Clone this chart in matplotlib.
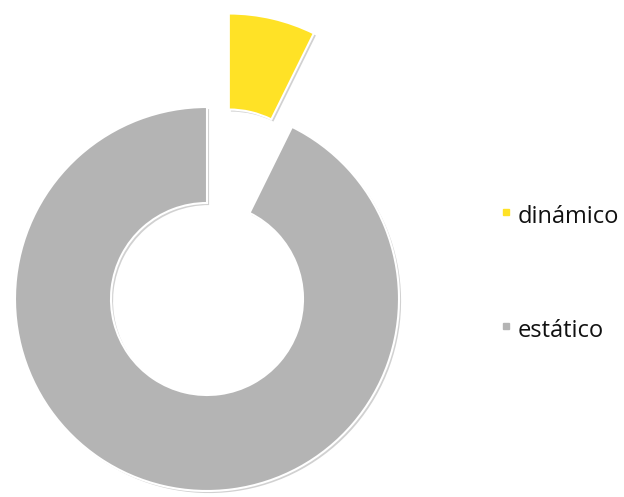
import matplotlib.pyplot as plt
import matplotlib.patheffects as pe
from matplotlib.lines import Line2D

labels = ["dinámico", "estático"]
values = [7.3, 92.7]
colors = ["#FFE226", "#B4B4B4"]
explode = [0.5, 0]

W, H = 624, 497
cx, cy, R = 207, 299, 192   # ring centre and outer radius, in pixels

fig = plt.figure(figsize=(W / 100, H / 100), dpi=100)
ax = fig.add_axes([0, 0, 1, 1])

wedges, _ = ax.pie(values, colors=colors, explode=explode, startangle=90,
                   counterclock=False, radius=1.0,
                   wedgeprops=dict(width=0.5, edgecolor="white", linewidth=1.5))
shadow = [pe.SimplePatchShadow(offset=(1.5, -1.5), shadow_rgbFace="#999999", alpha=0.45),
          pe.Normal()]
for w in wedges:
    w.set_path_effects(shadow)

# one data unit = one outer radius
ax.set_xlim(-cx / R, (W - cx) / R)
ax.set_ylim(-(H - cy) / R, cy / R)
ax.set_aspect("equal")
ax.axis("off")

# legend: small squares raised to the cap height, text to the right
legend_y = [223, 337]
for lab, col, yb in zip(labels, colors, legend_y):
    fig.add_artist(Line2D([506 / W], [1 - (yb - 11.5) / H], transform=fig.transFigure,
                          marker="s", markersize=5, linestyle="none",
                          markerfacecolor=col, markeredgecolor=col))
    fig.text(518 / W, 1 - yb / H, lab, ha="left", va="baseline",
             fontsize=17, family="Open Sans", color="#111111")

fig.savefig("out.png", dpi=100, facecolor="white")
